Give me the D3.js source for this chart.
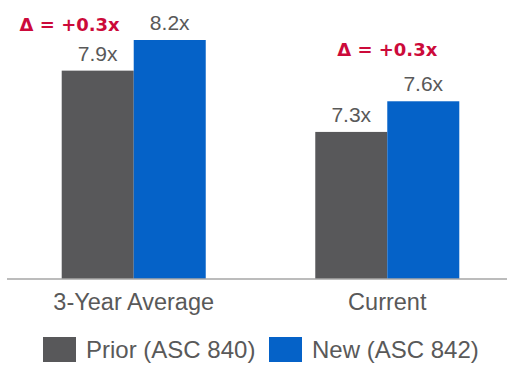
<!DOCTYPE html>
<html>
<head>
<meta charset="utf-8">
<script src="https://cdn.jsdelivr.net/npm/d3@7"></script>
<style>
  html, body { margin: 0; padding: 0; background: #fff; }
  svg { display: block; }
</style>
</head>
<body>
<svg id="chart" width="507" height="365"></svg>
<script>
// ---- data ----
const categories = ["3-Year Average", "Current"];
const seriesNames = ["Prior (ASC 840)", "New (ASC 842)"];
const priorValues = [7.9, 7.3];
const newValues = [8.2, 7.6];
const valueLabels = [["7.9x", "8.2x"], ["7.3x", "7.6x"]];
const deltaLabels = ["\u0394 = +0.3x", "\u0394 = +0.3x"];

const colors = ["#58585a", "#0562c8"];
const textColor = "#595959";
const deltaColor = "#cc0a3a";

const svg = d3.select("#chart");
const W = 507, H = 365;

const x0 = d3.scaleBand().domain(categories).range([11, 510]).paddingInner(0.432).paddingOuter(0.2);
const x1 = d3.scaleBand().domain(seriesNames).range([0, x0.bandwidth()]).padding(0);
const y = d3.scaleLinear().domain([5.86, 8.2]).range([279, 40]);
const base = y.domain()[0];

const rows = categories.map((c, i) => ({
  cat: c,
  vals: [
    { s: seriesNames[0], v: priorValues[i], label: valueLabels[i][0] },
    { s: seriesNames[1], v: newValues[i], label: valueLabels[i][1] }
  ],
  delta: deltaLabels[i]
}));

const g = svg.selectAll("g.grp").data(rows).join("g")
  .attr("class", "grp")
  .attr("transform", d => `translate(${x0(d.cat)},0)`);

g.selectAll("rect").data(d => d.vals).join("rect")
  .attr("x", d => x1(d.s))
  .attr("y", d => y(d.v))
  .attr("width", x1.bandwidth())
  .attr("height", d => y(base) - y(d.v))
  .attr("fill", (d, i) => colors[i]);

g.selectAll("text.val").data(d => d.vals).join("text")
  .attr("class", "val")
  .attr("x", d => x1(d.s) + x1.bandwidth() / 2)
  .attr("y", d => y(d.v) - 10)
  .attr("text-anchor", "middle")
  .attr("font-family", "'Liberation Sans', Arial, sans-serif")
  .attr("font-size", 21)
  .attr("fill", textColor)
  .text(d => d.label);

// delta labels
const deltaText = svg.selectAll("text.delta").data(rows).join("text")
  .attr("class", "delta")
  .attr("font-family", "'DejaVu Sans', Verdana, sans-serif")
  .attr("font-weight", "bold")
  .attr("font-size", 18)
  .attr("fill", deltaColor)
  .text(d => d.delta);

deltaText.each(function(d, i) {
  const sel = d3.select(this);
  if (i === 0) {
    sel.attr("text-anchor", "end")
      .attr("x", x0(d.cat) + x1(seriesNames[1]) - 14)
      .attr("y", y(d.vals[1].v) - 9);
  } else {
    sel.attr("text-anchor", "middle")
      .attr("x", x0(d.cat) + x1(seriesNames[1]))
      .attr("y", y(d.vals[1].v) - 45);
  }
});

// baseline axis line
svg.append("line")
  .attr("x1", 7).attr("x2", W)
  .attr("y1", y(base)).attr("y2", y(base))
  .attr("stroke", "#a6a6a6").attr("stroke-width", 1.5);

// category axis
const axis = svg.append("g")
  .attr("transform", `translate(0,${y(base)})`)
  .call(d3.axisBottom(x0).tickSize(0).tickPadding(14));
axis.select(".domain").remove();
axis.selectAll("text")
  .attr("font-family", "'Liberation Sans', Arial, sans-serif")
  .attr("font-size", 23.5)
  .attr("fill", textColor);

// legend
const legendX = [43, 269];
const leg = svg.selectAll("g.leg").data(seriesNames).join("g")
  .attr("class", "leg")
  .attr("transform", (d, i) => `translate(${legendX[i]},337)`);
leg.append("rect").attr("width", 33).attr("height", 25).attr("fill", (d, i) => colors[i]);
leg.append("text")
  .attr("x", 43).attr("y", 21)
  .attr("font-family", "'Liberation Sans', Arial, sans-serif")
  .attr("font-size", 24)
  .attr("fill", textColor)
  .text(d => d);
</script>
</body>
</html>
